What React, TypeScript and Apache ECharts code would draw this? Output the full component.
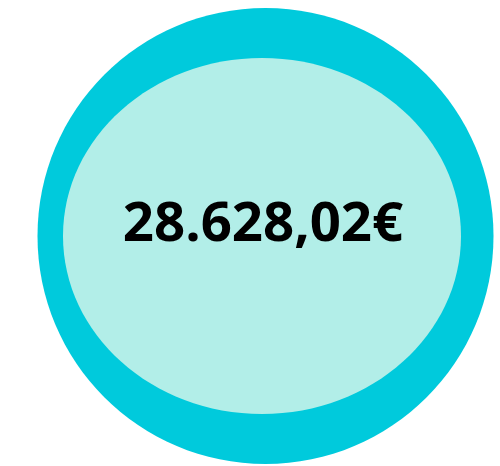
import React, { useEffect, useRef } from "react";
import * as echarts from "echarts";

const kpiValue = 28628.02;
const kpiLabel = "28.628,02€";

export default function App() {
  const ref = useRef<HTMLDivElement>(null);
  useEffect(() => {
    const chart = echarts.init(ref.current!, null, { renderer: "svg" });
    chart.setOption({
      animation: false,
      graphic: [
        {
          type: "ellipse",
          shape: { cx: 265.5, cy: 236, rx: 228, ry: 228 },
          style: { fill: "#00CADC" },
        },
        {
          type: "ellipse",
          shape: { cx: 262, cy: 236, rx: 199, ry: 178 },
          style: { fill: "#B2EEE8" },
        },
        {
          type: "text",
          x: 263,
          y: 220,
          style: {
            text: kpiLabel,
            fill: "#000000",
            font: "bold 54.5px 'Open Sans'",
            align: "center",
            verticalAlign: "middle",
          },
        },
      ],
    });
    return () => chart.dispose();
  }, []);
  return <div ref={ref} style={{ width: 500, height: 466, position: "absolute", left: 0, top: 0 }} data-value={kpiValue} />;
}
